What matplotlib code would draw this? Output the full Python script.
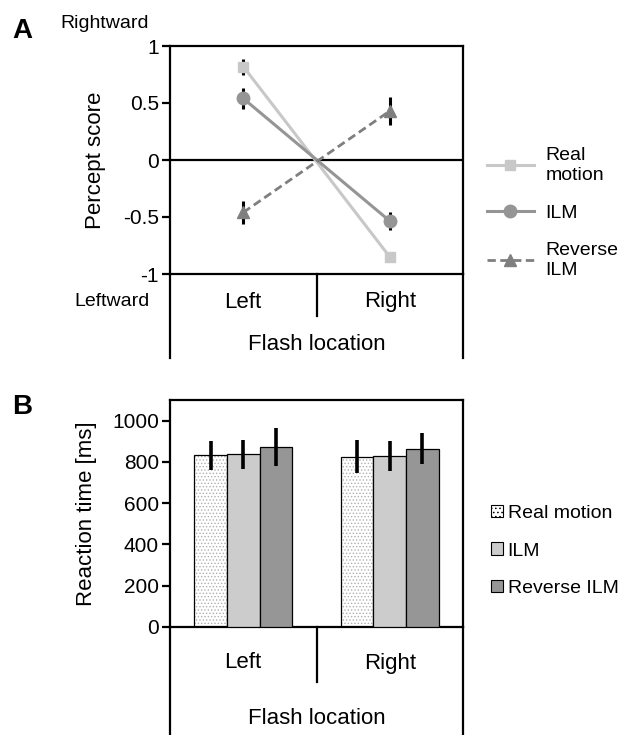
import matplotlib
matplotlib.use("Agg")
import matplotlib.pyplot as plt
from matplotlib.patches import Patch
import numpy as np

plt.rcParams['font.family'] = ['Liberation Sans', 'DejaVu Sans']
plt.rcParams['hatch.linewidth'] = 0.6

# ---------------- data ----------------
locations = ["Left", "Right"]
series_a = ["Real\nmotion", "ILM", "Reverse\nILM"]
percept_real = [0.82, -0.85]
percept_real_err = [0.07, 0.03]
percept_ilm = [0.54, -0.535]
percept_ilm_err = [0.09, 0.08]
percept_rev = [-0.46, 0.43]
percept_rev_err = [0.10, 0.12]

series_b = ["Real motion", "ILM", "Reverse ILM"]
rt_real = [832, 826]
rt_real_err = [70, 80]
rt_ilm = [838, 829]
rt_ilm_err = [70, 74]
rt_rev = [871, 864]
rt_rev_err = [92, 75]

W, H = 621, 735
fig = plt.figure(figsize=(W / 100, H / 100), dpi=100)

def add_ax(l, t, r, b):
    return fig.add_axes([l / W, 1 - b / H, (r - l) / W, (b - t) / H])

FS_TICK = 15
FS_LAB = 16
FS_LEG = 14
LW = 1.6

# ---------------- Panel A ----------------
L, R = 170, 463
axA = add_ax(L, 46, R, 274)
hA = 274 - 46
x = np.array([0, 1])
axA.set_xlim(-0.5, 1.5)
axA.set_ylim(-1, 1)
axA.axhline(0, color='black', lw=LW, zorder=1)
c_real, c_ilm, c_rev = '#c8c8c8', '#959595', '#7f7f7f'
for v, e in [(percept_real, percept_real_err), (percept_ilm, percept_ilm_err), (percept_rev, percept_rev_err)]:
    axA.errorbar(x, v, yerr=e, fmt='none', ecolor='black', elinewidth=2.2, capsize=0, zorder=2)
la1, = axA.plot(x, percept_real, color=c_real, lw=2.2, marker='s', ms=7, zorder=3)
la2, = axA.plot(x, percept_ilm, color=c_ilm, lw=2.2, marker='o', ms=9, zorder=3)
la3, = axA.plot(x, percept_rev, color=c_rev, lw=2.0, ls=(0, (3, 1.6)), marker='^', ms=8, zorder=3)
axA.set_yticks([-1, -0.5, 0, 0.5, 1])
axA.set_yticklabels(['-1', '-0.5', '0', '0.5', '1'])
axA.set_xticks([])
axA.tick_params(axis='y', direction='out', length=6, width=LW, labelsize=FS_TICK, pad=2)
for s in axA.spines.values():
    s.set_linewidth(LW)
ext = (358 - 274) / hA
axA.plot([0, 0], [0, -ext], transform=axA.transAxes, color='black', lw=LW, clip_on=False)
axA.plot([1, 1], [0, -ext], transform=axA.transAxes, color='black', lw=LW, clip_on=False)
axA.plot([0.5, 0.5], [0, -(316 - 274) / hA], transform=axA.transAxes, color='black', lw=LW, clip_on=False)
for xi, lab in zip(x, locations):
    axA.text(xi, -1.0 - 2 * (302 - 274) / hA, lab, ha='center', va='center', fontsize=FS_LAB)
axA.text(0.5, -(345 - 274) / hA, "Flash location", transform=axA.transAxes, ha='center', va='center', fontsize=FS_LAB)
axA.set_ylabel("Percept score", fontsize=FS_LAB)
axA.yaxis.set_label_coords((106 - L) / (R - L), 0.5)
fig.text(105 / W, 1 - 24 / H, "Rightward", ha='center', va='center', fontsize=FS_LEG)
fig.text(112 / W, 1 - 302 / H, "Leftward", ha='center', va='center', fontsize=FS_LEG)
fig.text(12 / W, 1 - 31 / H, "A", ha='left', va='center', fontsize=20, fontweight='bold')
axA.legend([la1, la2, la3], series_a, loc='center left', bbox_to_anchor=(487 / W, 1 - 213 / H),
           bbox_transform=fig.transFigure, frameon=False, fontsize=FS_LEG, handlelength=2.4,
           handletextpad=0.6, labelspacing=1.05, borderpad=0, borderaxespad=0)

# ---------------- Panel B ----------------
axB = add_ax(L, 400, R, 627)
hB = 627 - 400
axB.set_xlim(-0.5, 1.5)
axB.set_ylim(0, 1100)
bw = 0.222
offs = np.array([-bw, 0, bw])
xb = np.arange(2)
axB.bar(xb + offs[0], rt_real, bw, color='white', edgecolor='#b0b0b0', hatch='.....', lw=0, zorder=2)
axB.bar(xb + offs[0], rt_real, bw, color='none', edgecolor='black', lw=0.9, zorder=3)
axB.bar(xb + offs[1], rt_ilm, bw, color='#cccccc', edgecolor='black', lw=0.9, zorder=3)
axB.bar(xb + offs[2], rt_rev, bw, color='#969696', edgecolor='black', lw=0.9, zorder=3)
for off, v, e in [(offs[0], rt_real, rt_real_err), (offs[1], rt_ilm, rt_ilm_err), (offs[2], rt_rev, rt_rev_err)]:
    axB.errorbar(xb + off, v, yerr=e, fmt='none', ecolor='black', elinewidth=2.6, capsize=0, zorder=4)
axB.set_yticks([0, 200, 400, 600, 800, 1000])
axB.set_xticks([])
axB.tick_params(axis='y', direction='out', length=6, width=LW, labelsize=FS_TICK, pad=2)
for s in axB.spines.values():
    s.set_linewidth(LW)
extB = (734 - 627) / hB
axB.plot([0, 0], [0, -extB], transform=axB.transAxes, color='black', lw=LW, clip_on=False)
axB.plot([1, 1], [0, -extB], transform=axB.transAxes, color='black', lw=LW, clip_on=False)
axB.plot([0.5, 0.5], [0, -(682 - 627) / hB], transform=axB.transAxes, color='black', lw=LW, clip_on=False)
for xi, lab in zip(xb, locations):
    axB.text(xi, -(663 - 627) / hB * 1100, lab, ha='center', va='center', fontsize=FS_LAB)
axB.text(0.5, -(719 - 627) / hB, "Flash location", transform=axB.transAxes, ha='center', va='center', fontsize=FS_LAB)
axB.set_ylabel("Reaction time [ms]", fontsize=FS_LAB)
axB.yaxis.set_label_coords((97 - L) / (R - L), 0.5)
fig.text(12 / W, 1 - 407 / H, "B", ha='left', va='center', fontsize=20, fontweight='bold')
hb = [Patch(facecolor='white', edgecolor='black', hatch='....', lw=0.8),
      Patch(facecolor='#cccccc', edgecolor='black', lw=0.8),
      Patch(facecolor='#969696', edgecolor='black', lw=0.8)]
axB.legend(hb, series_b, loc='center left', bbox_to_anchor=(491 / W, 1 - 551 / H),
           bbox_transform=fig.transFigure, frameon=False, fontsize=FS_LEG, handlelength=0.6,
           handleheight=0.6, handletextpad=0.25, labelspacing=1.05, borderpad=0, borderaxespad=0)

fig.savefig("out.png", dpi=100)
